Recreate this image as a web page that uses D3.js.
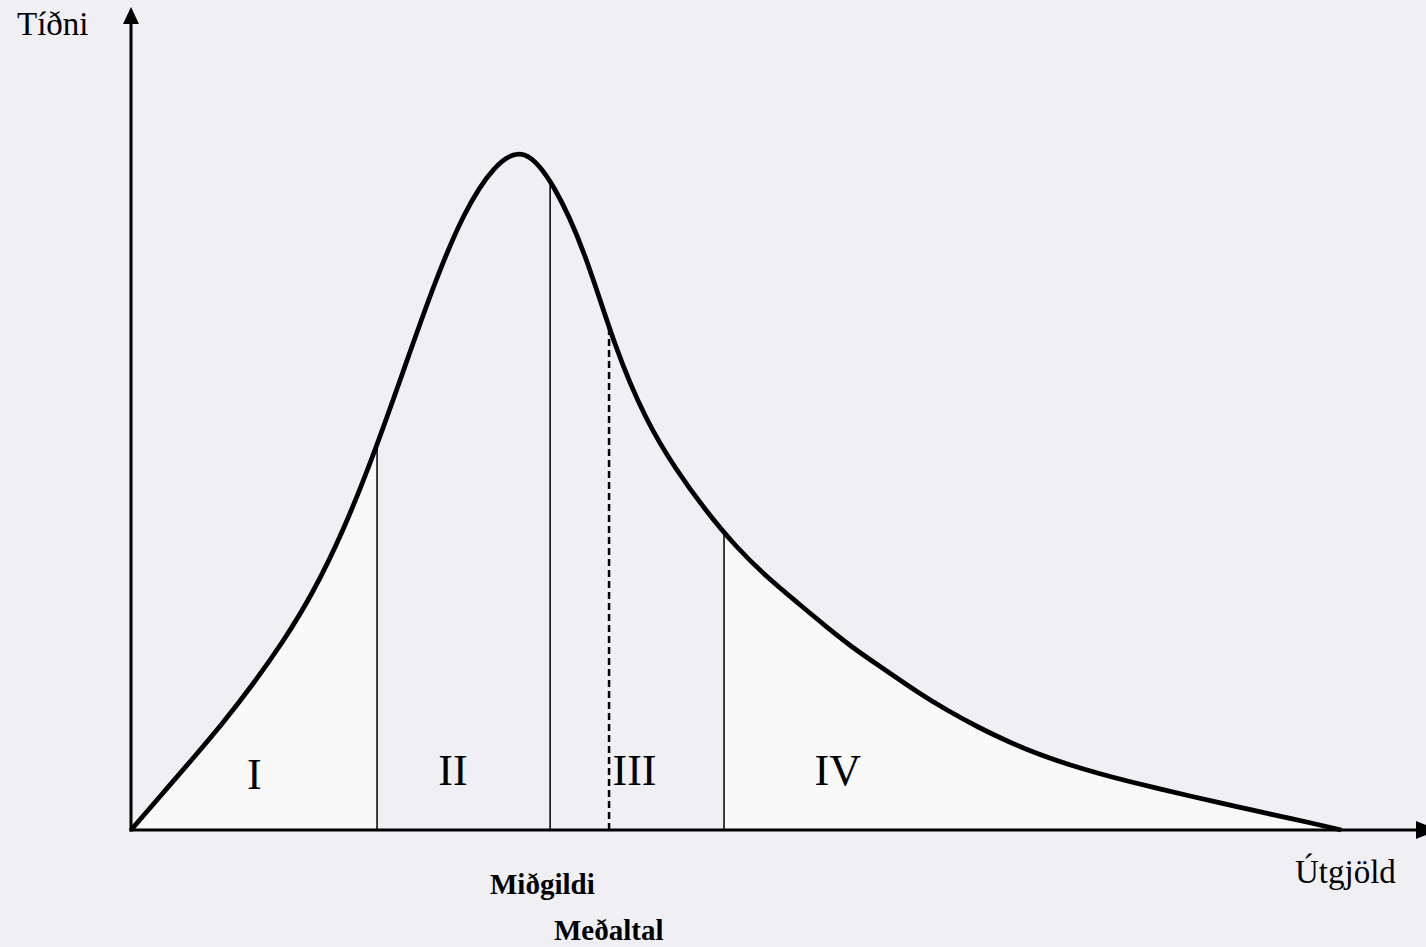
<!DOCTYPE html>
<html>
<head>
<meta charset="utf-8">
<script src="https://cdn.jsdelivr.net/npm/d3@7"></script>
<style>
  html, body { margin: 0; padding: 0; background: #f0eff4; }
  svg { display: block; }
</style>
</head>
<body>
<svg id="chart" width="1426" height="947"></svg>
<script>
// ---- data ----
const curveX = [0, 2.5, 5, 7.5, 10, 12.5, 15, 17.5, 20, 22.5, 25, 27.5, 30, 32.5, 35, 37.5, 40, 42.5, 45, 47.5, 50,
                52.5, 55, 57.5, 60, 62.5, 65, 67.5, 70, 72.5, 75, 77.5, 80, 82.5, 85, 87.5, 90, 92.5, 95, 97.5, 100];
const curveY = [0, 5.19, 10.38, 15.71, 21.49, 27.87, 35.28, 44.47, 55.59, 68.04, 80.49, 91.02, 97.98, 100.06, 95.02, 85.09, 72.04, 61.37, 53.66, 47.44, 42.10,
                37.65, 33.80, 30.09, 26.61, 23.50, 20.46, 17.71, 15.27, 13.12, 11.27, 9.71, 8.38, 7.19, 6.09, 5.04, 4.02, 3.02, 2.02, 1.04, 0];
const boundaries = [20.33, 34.63, 39.5, 49.0];          // I|II, median, mean, III|IV
const boundaryDashed = [false, false, true, false];
const regionLabels = ["I", "II", "III", "IV"];
const regionLabelX = [10.2, 26.6, 41.6, 58.4];
const regionLabelY = [6.1, 6.6, 6.6, 6.6];
const axisLabels = { y: "Tíðni", x: "Útgjöld" };
const markerLabels = ["Miðgildi", "Meðaltal"];

// ---- scales ----
const svg = d3.select("#chart");
const x = d3.scaleLinear().domain([0, 107]).range([131, 1426]);
const y = d3.scaleLinear().domain([0, 122]).range([830, 7]);

const pts = curveX.map((v, i) => [v, curveY[i]]);
const curveType = d3.curveNatural;

// ---- filled regions I and IV ----
const area = d3.area().x(d => x(d[0])).y0(y(0)).y1(d => y(d[1])).curve(curveType);
const defs = svg.append("defs");
const fillRanges = [[0, boundaries[0]], [boundaries[3], curveX[curveX.length - 1]]];
fillRanges.forEach((r, i) => {
  defs.append("clipPath").attr("id", "clip" + i)
    .append("rect")
    .attr("x", x(r[0])).attr("y", 0)
    .attr("width", x(r[1]) - x(r[0])).attr("height", y(0));
  svg.append("path").datum(pts)
    .attr("d", area)
    .attr("fill", "#f9f9fa")
    .attr("clip-path", "url(#clip" + i + ")");
});

// ---- curve ----
const line = d3.line().x(d => x(d[0])).y(d => y(d[1])).curve(curveType);
const curvePath = svg.append("path").datum(pts)
  .attr("d", line)
  .attr("fill", "none")
  .attr("stroke", "#000")
  .attr("stroke-width", 4.8)
  .attr("stroke-linejoin", "round");

// find curve height at a given pixel x
const node = curvePath.node();
const total = node.getTotalLength();
function yAtX(px) {
  let lo = 0, hi = total;
  for (let k = 0; k < 40; k++) {
    const mid = (lo + hi) / 2;
    if (node.getPointAtLength(mid).x < px) lo = mid; else hi = mid;
  }
  return node.getPointAtLength((lo + hi) / 2).y;
}

// ---- boundary lines ----
boundaries.forEach((b, i) => {
  const px = x(b);
  svg.append("line")
    .attr("x1", px).attr("x2", px)
    .attr("y1", y(0)).attr("y2", yAtX(px))
    .attr("stroke", "#000")
    .attr("stroke-width", boundaryDashed[i] ? 2.5 : 1.5)
    .attr("stroke-dasharray", boundaryDashed[i] ? "7,4" : null);
});

// ---- axes ----
svg.append("line")
  .attr("x1", x(0)).attr("x2", x(0))
  .attr("y1", y(0) + 1.5).attr("y2", y(120))
  .attr("stroke", "#000").attr("stroke-width", 3);
svg.append("path")
  .attr("d", `M${x(0)},${y(122)} L${x(0) - 8},${y(122) + 17} L${x(0) + 8},${y(122) + 17} Z`)
  .attr("fill", "#000");
svg.append("line")
  .attr("x1", x(0) - 1.5).attr("x2", 1418)
  .attr("y1", y(0)).attr("y2", y(0))
  .attr("stroke", "#000").attr("stroke-width", 3);
svg.append("path")
  .attr("d", `M1438,${y(0)} L1416,${y(0) - 9} L1416,${y(0) + 9} Z`)
  .attr("fill", "#000");

// ---- text ----
const serif = "'Liberation Serif', 'Times New Roman', serif";
svg.append("text").text(axisLabels.y)
  .attr("x", 17).attr("y", 35)
  .attr("font-family", serif).attr("font-size", 33).attr("fill", "#000");
svg.append("text").text(axisLabels.x)
  .attr("x", 1295).attr("y", 883)
  .attr("font-family", serif).attr("font-size", 33).attr("fill", "#000");

regionLabels.forEach((t, i) => {
  svg.append("text").text(t)
    .attr("x", x(regionLabelX[i])).attr("y", y(regionLabelY[i]))
    .attr("text-anchor", "middle")
    .attr("font-family", serif).attr("font-size", 44).attr("fill", "#000");
});

svg.append("text").text(markerLabels[0])
  .attr("x", 490).attr("y", 894)
  .attr("font-family", serif).attr("font-weight", "bold").attr("font-size", 29).attr("fill", "#000");
svg.append("text").text(markerLabels[1])
  .attr("x", 554).attr("y", 940)
  .attr("font-family", serif).attr("font-weight", "bold").attr("font-size", 29).attr("fill", "#000");
</script>
</body>
</html>
